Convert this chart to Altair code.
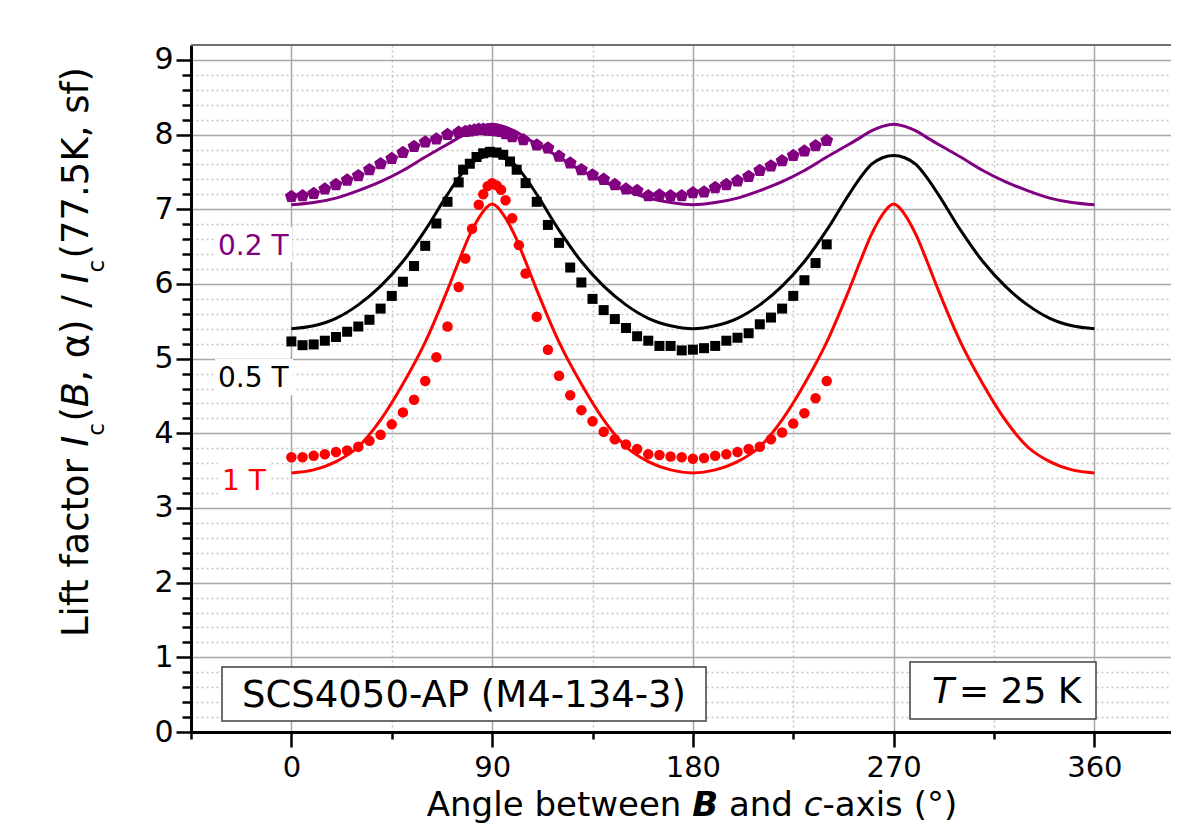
import altair as alt
import pandas as pd

# ---------------- data ----------------
fit_angle = [0, 10, 20, 30, 40, 50, 60, 70, 75, 80, 85, 90, 95, 100, 105, 110, 120, 130, 140, 150, 160, 170, 180,
             190, 200, 210, 220, 230, 240, 250, 255, 260, 265, 270, 275, 280, 285, 290, 300, 310, 320, 330, 340, 350, 360]
fit_02T = [7.06, 7.09, 7.15, 7.25, 7.37, 7.52, 7.70, 7.87, 7.96, 8.05, 8.11, 8.14,
           8.11, 8.05, 7.96, 7.87, 7.70, 7.52, 7.37, 7.25, 7.15, 7.09, 7.06,
           7.09, 7.15, 7.25, 7.37, 7.52, 7.70, 7.87, 7.96, 8.05, 8.11, 8.14,
           8.11, 8.05, 7.96, 7.87, 7.70, 7.52, 7.37, 7.25, 7.15, 7.09, 7.06]
fit_05T = [5.40, 5.44, 5.54, 5.72, 5.97, 6.30, 6.72, 7.20, 7.42, 7.60, 7.69, 7.72,
           7.69, 7.60, 7.42, 7.20, 6.72, 6.30, 5.97, 5.72, 5.54, 5.44, 5.40,
           5.44, 5.54, 5.72, 5.97, 6.30, 6.72, 7.20, 7.42, 7.60, 7.69, 7.72,
           7.69, 7.60, 7.42, 7.20, 6.72, 6.30, 5.97, 5.72, 5.54, 5.44, 5.40]
fit_1T = [3.47, 3.51, 3.62, 3.82, 4.18, 4.66, 5.22, 5.92, 6.30, 6.66, 6.93, 7.07,
          6.93, 6.66, 6.30, 5.92, 5.22, 4.66, 4.18, 3.82, 3.62, 3.51, 3.47,
          3.51, 3.62, 3.82, 4.18, 4.66, 5.22, 5.92, 6.30, 6.66, 6.93, 7.07,
          6.93, 6.66, 6.30, 5.92, 5.22, 4.66, 4.18, 3.82, 3.62, 3.51, 3.47]

meas_02T_angle = [0, 5, 10, 15, 20, 25, 30, 35, 40, 45, 50, 55, 60, 65, 70, 75,
                  78, 80, 82, 84, 86, 88, 90, 92, 94, 96, 99,
                  104, 110, 115, 120, 125, 130, 135, 140, 145, 150, 155, 160, 165, 170, 175, 180,
                  185, 190, 195, 200, 205, 210, 215, 220, 225, 230, 235, 240]
meas_02T = [7.17, 7.18, 7.21, 7.27, 7.33, 7.39, 7.45, 7.53, 7.61, 7.68, 7.76, 7.84, 7.90, 7.94, 8.00, 8.03,
            8.04, 8.05, 8.06, 8.07, 8.07, 8.06, 8.06, 8.05, 8.04, 8.01, 7.97,
            7.93, 7.86, 7.82, 7.71, 7.62, 7.53, 7.46, 7.40, 7.33, 7.27, 7.25, 7.18, 7.19, 7.18, 7.18, 7.22,
            7.23, 7.29, 7.33, 7.38, 7.44, 7.52, 7.58, 7.65, 7.72, 7.78, 7.85, 7.92]

meas_05T_angle = [0, 5, 10, 15, 20, 25, 30, 35, 40, 45, 50, 55, 60, 65, 70, 75,
                  77, 80, 83, 86, 89, 92, 95, 98, 101,
                  105, 110, 115, 120, 125, 130, 135, 140, 145, 150, 155, 160, 165, 170, 175, 180,
                  185, 190, 195, 200, 205, 210, 215, 220, 225, 230, 235, 240]
meas_05T = [5.23, 5.18, 5.19, 5.24, 5.29, 5.36, 5.43, 5.52, 5.67, 5.84, 6.03, 6.24, 6.51, 6.81, 7.10, 7.36,
            7.53, 7.61, 7.70, 7.75, 7.77, 7.76, 7.73, 7.64, 7.53,
            7.35, 7.10, 6.79, 6.55, 6.22, 6.02, 5.80, 5.65, 5.53, 5.41, 5.30, 5.24, 5.17, 5.17, 5.11, 5.12,
            5.14, 5.17, 5.24, 5.28, 5.34, 5.46, 5.55, 5.67, 5.84, 6.05, 6.28, 6.53]

meas_1T_angle = [0, 5, 10, 15, 20, 25, 30, 35, 40, 45, 50, 55, 60, 65, 70, 75,
                 78, 81, 84, 86, 88, 90, 92, 94, 96, 99, 102, 105,
                 110, 115, 120, 125, 130, 135, 140, 145, 150, 155, 160, 165, 170, 175, 180,
                 185, 190, 195, 200, 205, 210, 215, 220, 225, 230, 235, 240]
meas_1T = [3.68, 3.68, 3.70, 3.72, 3.75, 3.77, 3.82, 3.90, 3.98, 4.12, 4.28, 4.45, 4.70, 5.02, 5.43, 5.96,
           6.34, 6.74, 7.06, 7.20, 7.31, 7.35, 7.32, 7.26, 7.12, 6.88, 6.52, 6.14,
           5.56, 5.12, 4.77, 4.51, 4.31, 4.16, 4.02, 3.92, 3.85, 3.79, 3.72, 3.71, 3.69, 3.68, 3.66,
           3.67, 3.70, 3.72, 3.75, 3.79, 3.82, 3.92, 4.01, 4.13, 4.27, 4.47, 4.70]

x_tick_values = [-45, 0, 45, 90, 135, 180, 225, 270, 315, 360]
y_tick_values = [round(i * 0.2, 1) for i in range(46)]

series_labels = ["0.2 T", "0.5 T", "1 T"]
series_colors = ["#800080", "#000000", "#ff0000"]
sample_label = "SCS4050-AP (M4-134-3)"
temp_label = "= 25 K"

# ---------------- layout ----------------
W, H = 980, 687
PAD_L, PAD_T = 183, 37
PAD_B = 816 - PAD_T - H
PX_PER_DEG = 2.2306

x_scale = alt.Scale(domain=[-45, -45 + W / PX_PER_DEG], nice=False, zero=False)
y_scale = alt.Scale(domain=[0, 9.2], nice=False, zero=False)

is_major_x = "datum.value % 90 === 0"
is_major_y = "abs(datum.value - round(datum.value)) < 0.01"

x_axis = alt.Axis(
    values=x_tick_values, title=None,
    labelExpr=f"{is_major_x} ? datum.label : ''",
    labelFont="DejaVu Sans", labelFontSize=29, labelColor="black", labelPadding=6,
    tickSize={"condition": {"test": is_major_x, "value": 15}, "value": 7},
    tickColor="black", tickWidth=2.5,
    domainColor="black", domainWidth=3,
    grid=True,
    gridColor={"condition": {"test": is_major_x, "value": "#a8a8a8"}, "value": "#c4c4c4"},
    gridDash={"condition": {"test": is_major_x, "value": []}, "value": [2, 3]},
    gridWidth=1.5,
)
y_axis = alt.Axis(
    values=y_tick_values, title=None,
    labelExpr=f"{is_major_y} ? format(datum.value, 'd') : ''",
    labelFont="DejaVu Sans", labelFontSize=30, labelColor="black", labelPadding=3,
    tickSize={"condition": {"test": is_major_y, "value": 15}, "value": 9},
    tickColor="black", tickWidth=2.5,
    domainColor="black", domainWidth=3,
    grid=True,
    gridColor={"condition": {"test": is_major_y, "value": "#a8a8a8"}, "value": "#c4c4c4"},
    gridDash={"condition": {"test": is_major_y, "value": []}, "value": [2, 3]},
    gridWidth=1.5,
)

X = alt.X("angle:Q", scale=x_scale, axis=x_axis)
Y = alt.Y("v:Q", scale=y_scale, axis=y_axis)

PENTAGON = "M0,-1L0.951,-0.309L0.588,0.809L-0.588,0.809L-0.951,-0.309Z"

ann = pd.DataFrame({"k": [0]})


def text_at(txt, px, py, size, color="black", font="DejaVu Sans", style="normal",
            weight="normal", angle=0, align="left", baseline="alphabetic"):
    return alt.Chart(ann).mark_text(
        text=txt, font=font, fontSize=size, fontStyle=style, fontWeight=weight,
        color=color, angle=angle, align=align, baseline=baseline
    ).encode(x=alt.value(px), y=alt.value(py))


def rect_at(x1, y1, x2, y2, stroke=None, sw=0):
    kw = dict(fill="white")
    if stroke:
        kw.update(stroke=stroke, strokeWidth=sw)
    return alt.Chart(ann).mark_rect(**kw).encode(
        x=alt.value(x1), x2=alt.value(x2), y=alt.value(y1), y2=alt.value(y2))


# DejaVu Sans advance widths (per 1000 em)
DEJAVU = {" ": 318, "A": 684, "n": 634, "g": 635, "l": 278, "e": 615, "b": 635, "t": 392, "w": 818,
          "a": 613, "d": 635, "c": 550, "-": 361, "x": 592, "i": 278, "s": 521, "(": 390, ")": 390,
          "°": 500, "B": 686, "L": 557, "f": 352, "o": 612, "r": 411, "I": 295, ",": 318, "α": 659,
          "/": 337, "7": 636, ".": 318, "5": 636, "K": 656}
DEJAVU_BOLD_B = 762


def width(s, size, bold=False):
    return sum((DEJAVU_BOLD_B if (bold and ch == "B") else DEJAVU[ch]) for ch in s) * size / 1000.0


def lead(s, size):
    n = len(s) - len(s.lstrip(" "))
    return n * DEJAVU[" "] * size / 1000.0


layers = []

# white backgrounds of the field labels
layers += [rect_at(24, 182, 101, 217), rect_at(24, 314, 102, 350), rect_at(27, 417, 80, 452)]

# measured points
df_p = pd.DataFrame({"angle": meas_02T_angle, "v": meas_02T})
layers.append(alt.Chart(df_p).mark_point(shape=PENTAGON, filled=True, size=185, color=series_colors[0],
                                         opacity=1).encode(x=X, y=Y))
df_s = pd.DataFrame({"angle": meas_05T_angle, "v": meas_05T})
layers.append(alt.Chart(df_s).mark_point(shape="square", filled=True, size=100, color=series_colors[1],
                                         opacity=1).encode(x=X, y=Y))
df_c = pd.DataFrame({"angle": meas_1T_angle, "v": meas_1T})
layers.append(alt.Chart(df_c).mark_point(shape="circle", filled=True, size=110, color=series_colors[2],
                                         opacity=1).encode(x=X, y=Y))

# fitted curves
for vals, col in [(fit_02T, series_colors[0]), (fit_05T, series_colors[1]), (fit_1T, series_colors[2])]:
    df = pd.DataFrame({"angle": fit_angle, "v": vals})
    layers.append(alt.Chart(df).mark_line(color=col, strokeWidth=3, interpolate="monotone").encode(x=X, y=Y))

# top frame line
layers.append(alt.Chart(ann).mark_rule(color="#707070", strokeWidth=2).encode(
    x=alt.value(0), x2=alt.value(W), y=alt.value(0)))

# field labels
layers.append(text_at(series_labels[0], 27, 210, 28, color=series_colors[0]))
layers.append(text_at(series_labels[1], 27, 342, 28, color=series_colors[1]))
layers.append(text_at(series_labels[2], 31, 445, 28, color=series_colors[2]))

# annotation boxes
layers.append(rect_at(31, 622, 515, 676, stroke="#404040", sw=1.5))
layers.append(text_at(sample_label, 273, 662, 37, align="center"))
layers.append(rect_at(719, 617, 905, 674, stroke="#404040", sw=1.5))
layers.append(text_at("T", 741, 658, 36, style="italic"))
layers.append(text_at(temp_label, 768, 658, 36))

# x-axis title (rich text composed of segments)
XS = 34
x_parts = [("Angle between ", "normal", "normal"), ("B", "italic", "bold"), (" and ", "normal", "normal"),
           ("c", "italic", "normal"), ("-axis (°)", "normal", "normal")]
total = sum(width(p[0], XS, p[2] == "bold") for p in x_parts)
cur = 501 - total / 2
for txt, st, wt in x_parts:
    layers.append(text_at(txt.strip(), cur + lead(txt, XS), 771, XS, style=st, weight=wt))
    cur += width(txt, XS, wt == "bold")

# y-axis title (rotated, rich text)
YS = 37
SUB = 0.62
y_parts = [("Lift factor ", "normal", 1.0, 0), ("I", "italic", 1.0, 0), ("c", "normal", SUB, 1),
           ("(", "normal", 1.0, 0), ("B", "italic", 1.0, 0), (", α) / ", "normal", 1.0, 0),
           ("I", "italic", 1.0, 0), ("c", "normal", SUB, 1), ("(77.5K, sf)", "normal", 1.0, 0)]
cur = 0.0
for txt, st, sc, sub in y_parts:
    size = YS * sc
    xb = -103 + (0.42 * YS if sub else 0)
    layers.append(text_at(txt.strip(), xb, 592 - cur - lead(txt, size), size, style=st, angle=270))
    cur += width(txt, size) + (1.5 if sub else 0)

chart = alt.layer(*layers).properties(
    width=W, height=H,
    padding={"left": PAD_L, "top": PAD_T, "right": 0, "bottom": PAD_B},
    autosize=alt.AutoSizeParams(type="none"),
).configure_view(stroke=None)

chart.save("out.html", embed_options={"renderer": "svg", "actions": False})
